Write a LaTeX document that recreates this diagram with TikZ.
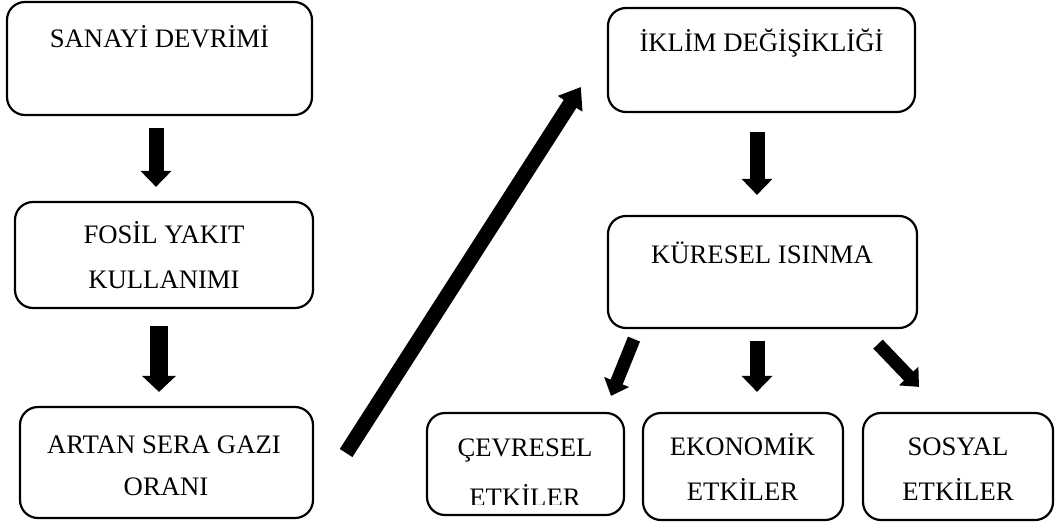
\documentclass[tikz,border=0pt]{standalone}
\usepackage{fontspec}
\setmainfont{Liberation Serif}
\usetikzlibrary{arrows.meta,calc}
\begin{document}
\begin{tikzpicture}[x=1pt,y=-1pt,
  box/.style={draw,line width=2.2pt,rounded corners=18pt,inner sep=0pt},
  txt/.style={anchor=base,inner sep=0pt,font=\fontsize{26.7}{42}\selectfont},
  blk/.style={line width=15pt,-{Triangle[width=30pt,length=16pt]}},
  blkthick/.style={line width=18pt,-{Triangle[width=33pt,length=16pt]}},
  blksmall/.style={line width=13pt,-{Triangle[width=26pt,length=15pt]}},
  blkdiag/.style={line width=15pt,-{Triangle[width=28pt,length=20pt]}}]
\useasboundingbox (0,0) rectangle (1056,524);
% boxes
\node[box,minimum width=305pt,minimum height=113pt] (b1) at (159.5,58.5) {};
\node[box,minimum width=298pt,minimum height=106pt] (b2) at (164,255) {};
\node[box,minimum width=293pt,minimum height=111pt] (b3) at (166.5,462.5) {};
\node[box,minimum width=307pt,minimum height=104pt] (b4) at (761.5,60) {};
\node[box,minimum width=309pt,minimum height=112pt] (b5) at (762.5,272) {};
\node[box,minimum width=197pt,minimum height=102pt] (b6) at (525.5,464) {};
\node[box,minimum width=200pt,minimum height=107pt] (b7) at (743,466.5) {};
\node[box,minimum width=190pt,minimum height=107pt] (b8) at (958,466.5) {};
% texts
\node[txt] (t1) at (159.5,48) {SANAYİ DEVRİMİ};
\node[txt] (t2a) at (164,243) {FOSİL YAKIT};
\node[txt] (t2b) at (164,288) {KULLANIMI};
\node[txt] (t3a) at (164,453) {ARTAN SERA GAZI};
\node[txt] (t3b) at (166,495) {ORANI};
\node[txt] (t4) at (761.5,52) {İKLİM DEĞİŞİKLİĞİ};
\node[txt] (t5) at (762,263) {KÜRESEL ISINMA};
\node[txt] (t6a) at (525,456) {ÇEVRESEL};
\begin{scope}
  \clip (428,414) rectangle (623,504);
  \node[txt] (t6b) at (525,506) {ETKİLER};
\end{scope}
\node[txt] (t7a) at (742.5,455) {EKONOMİK};
\node[txt] (t7b) at (742.5,500) {ETKİLER};
\node[txt] (t8a) at (958,455) {SOSYAL};
\node[txt] (t8b) at (958,500) {ETKİLER};
% arrows
\draw[blk] ($(b1.south)+(-3.5,12)$) -- ($(b2.north)+(-8,-14)$);
\draw[blkthick] ($(b2.south)+(-5,17)$) -- ($(b3.north)+(-7.5,-14)$);
\draw[blkdiag] ($(b3.east)+(32,-9.5)$) -- ($(b4.west)+(-26,27)$);
\draw[blk] ($(b4.south)+(-4.5,19)$) -- ($(b5.north)+(-5.5,-20)$);
\draw[blksmall] ($(b5.south)+(-128.5,10)$) -- ($(b6.north)+(85.5,-16)$);
\draw[blk] ($(b5.south)+(-5.5,12)$) -- ($(b7.north)+(14,-20)$);
\draw[blksmall] ($(b5.south)+(115.5,15)$) -- ($(b8.north)+(-39,-25)$);
\end{tikzpicture}
\end{document}
